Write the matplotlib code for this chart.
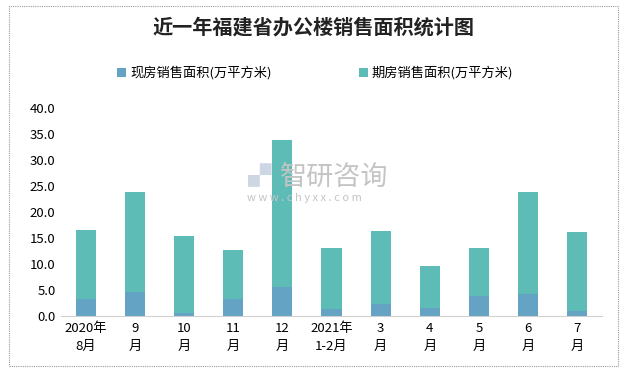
import matplotlib.pyplot as plt
import numpy as np
from matplotlib.patches import Rectangle

plt.rcParams['font.family'] = ['Noto Sans CJK SC', 'DejaVu Sans']

categories = ["2020年\n8月", "9\n月", "10\n月", "11\n月", "12\n月", "2021年\n1-2月",
              "3\n月", "4\n月", "5\n月", "6\n月", "7\n月"]
# 现房 (existing) and total
existing = [3.3, 4.7, 0.6, 3.3, 5.6, 1.4, 2.3, 1.5, 3.9, 4.3, 1.0]
total = [16.6, 23.9, 15.4, 12.7, 33.9, 13.1, 16.4, 9.6, 13.1, 23.9, 16.2]
presale = [t - e for t, e in zip(total, existing)]

yticks = np.arange(0, 40.1, 5)

C_EXIST = '#64A3C3'
C_PRE = '#5DBCB6'

fig = plt.figure(figsize=(6.34, 3.72), dpi=100)
fig.patches.append(Rectangle((9 / 634, 6 / 372), 609 / 634, 360 / 372,
                             transform=fig.transFigure, fill=False,
                             edgecolor='#9a9a9a', linestyle=(0, (1, 1)), linewidth=0.8))

ax = fig.add_axes([61 / 634, 1 - 316 / 372, 541 / 634, 208 / 372])
x = np.arange(len(categories))
ax.bar(x, existing, width=0.41, color=C_EXIST, label='现房销售面积(万平方米)', zorder=2)
ax.bar(x, presale, width=0.41, bottom=existing, color=C_PRE, label='期房销售面积(万平方米)', zorder=2)

ax.set_xlim(-0.5, len(categories) - 0.5)
ax.set_ylim(0, 40)
ax.set_yticks(yticks)
ax.set_yticklabels([f"{v:.1f}" for v in yticks], fontsize=9.5)
ax.set_xticks(x)
ax.set_xticklabels(categories, fontsize=9.5, linespacing=1.5)
ax.tick_params(axis='both', length=0, pad=4)
for s in ['top', 'right', 'left']:
    ax.spines[s].set_visible(False)
ax.spines['bottom'].set_color('#d0d0d0')

fig.text(0.494, 1 - 27 / 372, '近一年福建省办公楼销售面积统计图', ha='center', va='center',
         fontsize=14.5, fontweight='bold', color='#222222')

fig.legend(loc='center left', bbox_to_anchor=(117 / 634, 1 - 73 / 372), ncol=2, frameon=False,
           fontsize=9.5, handlelength=0.7, handleheight=0.7, columnspacing=6.6, handletextpad=0.3,
           borderaxespad=0, borderpad=0)

# watermark
fig.text(248 / 634, 1 - 177 / 372, '▞', fontsize=17, color='#cdd6e3', va='center', ha='left', zorder=5)
fig.text(280 / 634, 1 - 177 / 372, '智研咨询', fontsize=19.5, color='#c4c4c4', va='center', ha='left', zorder=5)
fig.text(247 / 634, 1 - 198 / 372, 'w w w . c h y x x . c o m', fontsize=8, color='#c4c4c4',
         va='center', ha='left', zorder=5)

fig.savefig('out.png', dpi=100)
